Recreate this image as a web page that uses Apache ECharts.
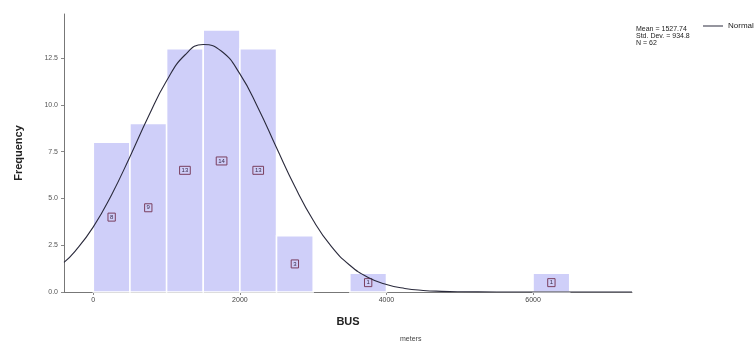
<!DOCTYPE html>
<html>
<head>
<meta charset="utf-8">
<script src="https://cdn.jsdelivr.net/npm/echarts@6/dist/echarts.min.js"></script>
<style>
  html, body { margin: 0; padding: 0; background: #ffffff; }
  #chart { width: 754px; height: 347px; }
</style>
</head>
<body>
<div id="chart"></div>
<script>
// Histogram of BUS distances (meters), bins of 500 m
const binStart = [0, 500, 1000, 1500, 2000, 2500, 3500, 6000];
const binCount = [8, 9, 13, 14, 13, 3, 1, 1];
const binWidth = 500;

// Fitted normal curve (frequency scale), sampled every 250 m
const curveX = [-400, -250, 0, 250, 500, 750, 1000, 1250, 1500, 1750, 2000, 2250, 2500, 2750, 3000,
                3250, 3500, 3750, 4000, 4250, 4500, 4750, 5000, 5500, 6000, 6500, 7000, 7350];
const curveY = [1.58, 2.17, 3.48, 5.20, 7.23, 9.36, 11.28, 12.66, 13.22, 12.86, 11.65, 9.82, 7.70, 5.63, 3.83,
                2.42, 1.43, 0.78, 0.40, 0.19, 0.084, 0.035, 0.013, 0.002, 0.0001, 0, 0, 0];

const yTicks = [0, 2.5, 5, 7.5, 10, 12.5];
const xTicks = [0, 2000, 4000, 6000];

const statsLines = ['Mean = 1527.74', 'Std. Dev. = 934.8', 'N = 62'];

const FONT = '"Liberation Sans", Arial, sans-serif';

const chart = echarts.init(document.getElementById('chart'), null, { renderer: 'canvas' });

const barData = binStart.map((s, i) => [s, s + binWidth, binCount[i]]);
const curveData = curveX.map((x, i) => [x, curveY[i]]);

chart.setOption({
  animation: false,
  backgroundColor: '#ffffff',
  textStyle: { fontFamily: FONT },
  grid: { left: 64, right: 122, top: 14, bottom: 55 },
  legend: {
    data: [{ name: 'Normal', icon: 'rect' }],
    left: 698, top: 17,
    itemWidth: 20, itemHeight: 1, itemGap: 4,
    textStyle: { fontSize: 8, color: '#222', fontFamily: FONT }
  },
  xAxis: {
    type: 'value',
    min: -400, max: 7350,
    name: 'BUS',
    nameLocation: 'middle',
    nameGap: 24,
    nameTextStyle: { fontSize: 11, fontWeight: 'bold', color: '#222', fontFamily: FONT },
    axisLine: { show: true, onZero: false, lineStyle: { color: '#777', width: 1 } },
    axisTick: { show: true, length: 3, customValues: xTicks, lineStyle: { color: '#888' } },
    axisLabel: { customValues: xTicks, fontSize: 7, color: '#444', margin: 5,
                 formatter: v => String(v) },
    splitLine: { show: false }
  },
  yAxis: {
    type: 'value',
    min: 0, max: 14.85,
    name: 'Frequency',
    nameLocation: 'middle',
    nameRotate: 90,
    nameGap: 40,
    nameTextStyle: { fontSize: 11, fontWeight: 'bold', color: '#222', fontFamily: FONT },
    axisLine: { show: true, onZero: false, lineStyle: { color: '#777', width: 1 } },
    axisTick: { show: true, length: 3, customValues: yTicks, lineStyle: { color: '#888' } },
    axisLabel: { customValues: yTicks, fontSize: 7, color: '#555', margin: 6,
                 formatter: v => v.toFixed(1) },
    splitLine: { show: false }
  },
  series: [
    {
      type: 'custom',
      name: 'Frequency',
      data: barData,
      encode: { x: [0, 1], y: 2 },
      renderItem: function (params, api) {
        const x0 = api.value(0), x1 = api.value(1), c = api.value(2);
        const p0 = api.coord([x0, c]);
        const p1 = api.coord([x1, 0]);
        const mid = api.coord([(x0 + x1) / 2, c / 2]);
        return {
          type: 'group',
          children: [
            {
              type: 'rect',
              shape: { x: p0[0], y: p0[1], width: p1[0] - p0[0], height: p1[1] - p0[1] },
              style: { fill: '#cfcff9', stroke: '#ffffff', lineWidth: 1.5 }
            },
            {
              type: 'text',
              x: mid[0], y: mid[1],
              style: {
                text: String(c),
                align: 'center', verticalAlign: 'middle',
                font: '6px ' + FONT,
                fill: '#3a2a4a',
                borderColor: '#7a3f5f', borderWidth: 1,
                padding: [1, 2, 1, 2]
              }
            }
          ]
        };
      },
      z: 1
    },
    {
      type: 'line',
      name: 'Normal',
      data: curveData,
      smooth: true,
      showSymbol: false,
      lineStyle: { color: '#2a2a3c', width: 1.1 },
      itemStyle: { color: '#2a2a3c' },
      z: 3
    }
  ],
  graphic: [
    {
      type: 'text',
      left: 636, top: 26,
      style: { text: statsLines.join('\n'), font: '7px ' + FONT, fill: '#222', lineHeight: 7 }
    },
    {
      type: 'text',
      left: 400, top: 336,
      style: { text: 'meters', font: '7px ' + FONT, fill: '#444' }
    }
  ]
});
</script>
</body>
</html>
